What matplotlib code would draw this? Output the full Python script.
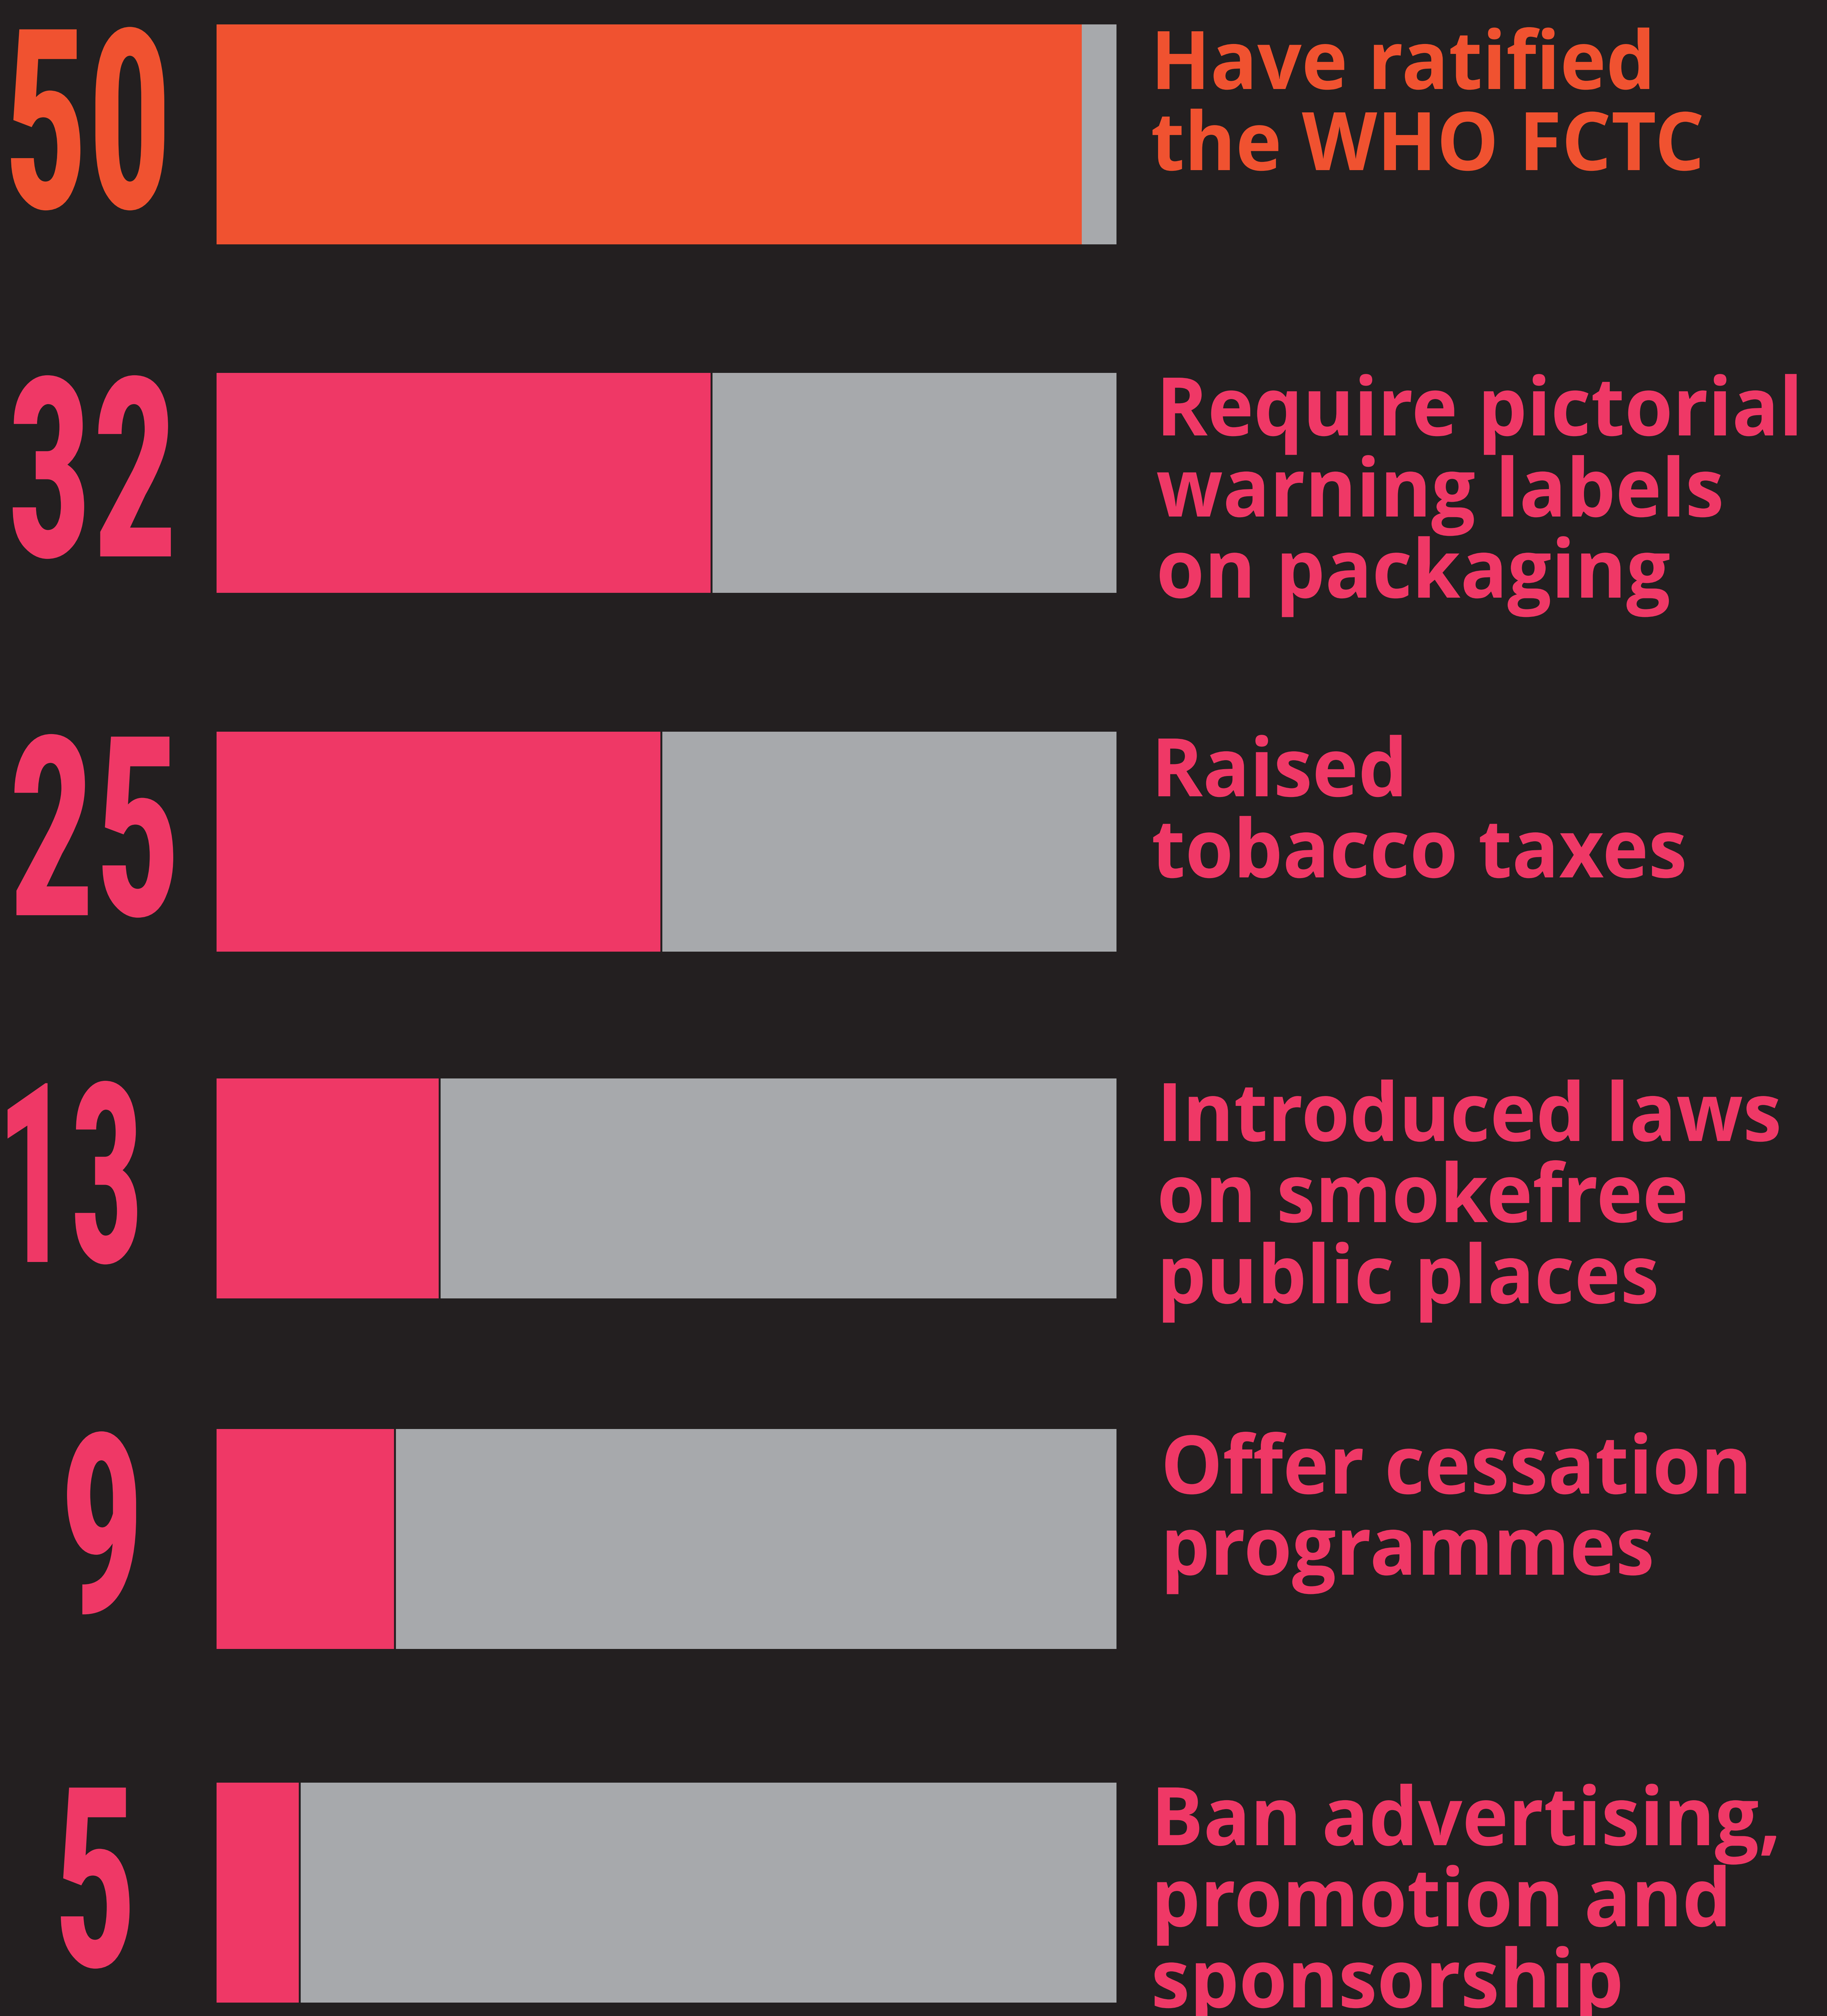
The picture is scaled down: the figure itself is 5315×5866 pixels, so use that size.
import matplotlib
matplotlib.use("Agg")
import matplotlib.pyplot as plt
from matplotlib import font_manager, patheffects
from matplotlib.font_manager import FontProperties
from matplotlib.textpath import TextPath
from matplotlib.transforms import Affine2D, blended_transform_factory

# countries per measure (shown as the big numbers)
counts = [50, 32, 25, 13, 9, 5]
# bar lengths as they are drawn in the original graphic (out of 52)
filled_shown = [50, 28.6, 25.7, 12.9, 10.3, 4.8]
total = 52
labels = ["Have ratified\nthe WHO FCTC",
          "Require pictorial\nwarning labels\non packaging",
          "Raised\ntobacco taxes",
          "Introduced laws\non smokefree\npublic places",
          "Offer cessation\nprogrammes",
          "Ban advertising,\npromotion and\nsponsorship"]

BG = "#231f20"
ORANGE = "#f05230"
PINK = "#ef3866"
GREY = "#a7a9ac"
colors = [ORANGE] + [PINK] * 5

# layout in output pixels
W, H, DPI = 5315, 5866, 100
row_top = [71, 1085, 2129, 3138, 4158, 5187]
BAR_H = 640
BAR_X0, BAR_X1 = 630, 3248
num_left = [32, 37, 42, 22, 195, 177]
num_width = [446, 460, 462, 377, 201, 200]
lab_left = [3368, 3384, 3370, 3386, 3390, 3369]
NUM_H = 534          # digit height
LAB_CAP = 168        # cap height of labels
LAB_BASE = 194       # first baseline below bar top
LAB_PITCH = 230      # baseline to baseline


def pick_font(names):
    for n in names:
        try:
            font_manager.findfont(FontProperties(family=n, weight="bold"),
                                  fallback_to_default=False)
            return n
        except ValueError:
            pass
    return "DejaVu Sans"


class Squeeze(patheffects.AbstractPathEffect):
    # narrows the glyphs horizontally around the text origin
    def __init__(self, sx):
        super().__init__()
        self.sx = sx

    def draw_path(self, renderer, gc, tpath, affine, rgbFace=None):
        renderer.draw_path(gc, tpath, Affine2D().scale(self.sx, 1.0) + affine, rgbFace)


def extents(prop, s):
    return TextPath((0, 0), s, size=100, prop=prop).get_extents()


def fit(prop, s_h, s_w, target_h, target_w):
    size_px = 100 * target_h / extents(prop, s_h).height
    sx = target_w / (extents(prop, s_w).width * size_px / 100)
    return size_px, sx


num_font = pick_font(["Roboto Condensed", "Liberation Sans Narrow", "Roboto", "DejaVu Sans"])
lab_font = pick_font(["Open Sans", "Lato", "Noto Sans", "DejaVu Sans"])
num_prop = FontProperties(family=num_font, weight="bold")
lab_prop = FontProperties(family=lab_font, weight="bold")

lab_px, lab_sx = fit(lab_prop, "H", "Have ratified", LAB_CAP, 1430)

fig = plt.figure(figsize=(W / DPI, H / DPI), dpi=DPI, facecolor=BG)
ax = fig.add_axes([BAR_X0 / W, 0, (BAR_X1 - BAR_X0) / W, 1])
ax.set_facecolor(BG)
ax.set_xlim(0, total)
ax.set_ylim(H, 0)
ax.axis("off")

rows = [t + BAR_H / 2 for t in row_top]
ax.barh(rows, [total] * len(rows), height=BAR_H, color=GREY, linewidth=0)
ax.barh(rows, filled_shown, height=BAR_H, color=colors, linewidth=0)
# thin dark gap between the coloured part and the grey remainder
ax.vlines(filled_shown[1:], [t for t in row_top[1:]], [t + BAR_H for t in row_top[1:]],
          colors=BG, linewidth=4)

tr = blended_transform_factory(fig.transFigure, ax.transData)
for i, (n, lab) in enumerate(zip(counts, labels)):
    s = str(n)
    num_px, num_sx = fit(num_prop, "50", s, NUM_H, num_width[i])
    x0 = num_left[i] - extents(num_prop, s).xmin * num_px / 100 * num_sx
    ax.text(x0 / W, row_top[i] + NUM_H, s, transform=tr,
            ha="left", va="baseline", color=colors[i],
            fontproperties=num_prop, fontsize=num_px * 72 / DPI,
            path_effects=[Squeeze(num_sx)])

    first = lab.split("\n")[0]
    lx = lab_left[i] - extents(lab_prop, first).xmin * lab_px / 100 * lab_sx
    n_lines = lab.count("\n") + 1
    # 'baseline' anchors the last line of a multi-line text
    ly = row_top[i] + LAB_BASE + (n_lines - 1) * LAB_PITCH
    ax.text(lx / W, ly, lab, transform=tr,
            ha="left", va="baseline", color=colors[i],
            fontproperties=lab_prop, fontsize=lab_px * 72 / DPI, linespacing=1.0,
            path_effects=[Squeeze(lab_sx)])

fig.savefig("out.png", dpi=DPI, facecolor=BG)
